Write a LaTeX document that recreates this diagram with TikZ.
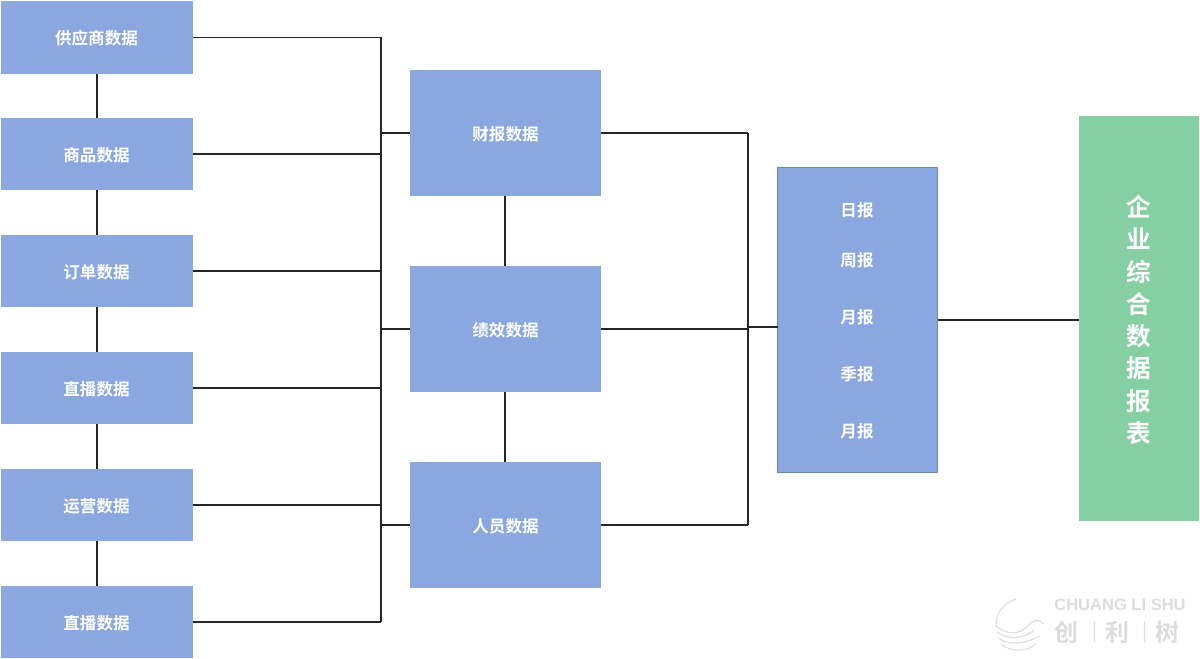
\documentclass[tikz,border=0pt]{standalone}
\usepackage{fontspec}
\setmainfont{Noto Sans CJK SC}[BoldFont={Noto Sans CJK SC Bold}]
\newfontfamily\latinwm{Liberation Sans}
\definecolor{boxblue}{HTML}{8AA7DF}
\definecolor{boxgreen}{HTML}{86CFA2}
\definecolor{wmgrey}{HTML}{DCDCDC}
\tikzset{
  x=0.75pt,y=-0.75pt,
  label/.style={text=white,font=\fontsize{12.4}{14}\selectfont\bfseries,inner sep=0pt,outer sep=0pt,text height=12.5pt,text depth=1.5pt},
  box/.style={label,fill=boxblue,draw=none},
  smallbox/.style={box,minimum width=144pt,minimum height=54.5pt},
  midbox/.style={box,minimum width=143.5pt,minimum height=95pt},
  link/.style={draw=black!85,line width=0.95pt},
  linkthick/.style={draw=black!85,line width=1.3pt},
  wm/.style={draw=wmgrey,line width=0.8pt,line cap=round},
  wmtext/.style={text=wmgrey,inner sep=0pt,font=\fontsize{18}{20}\selectfont\bfseries}
}
\begin{document}
\begin{tikzpicture}
\useasboundingbox (0,0) rectangle (1200,659);
% left column
\node[smallbox] (s1) at (96.5,37.5) {供应商数据};
\node[smallbox] (s2) at (96.5,154) {商品数据};
\node[smallbox] (s3) at (96.5,271) {订单数据};
\node[smallbox] (s4) at (96.5,388) {直播数据};
\node[smallbox] (s5) at (96.5,505) {运营数据};
\node[smallbox] (s6) at (96.5,622) {直播数据};
% middle column
\node[midbox] (m1) at (505.5,133) {财报数据};
\node[midbox] (m2) at (505.5,329) {绩效数据};
\node[midbox] (m3) at (505.5,525) {人员数据};
% reports box
\node[box,draw=boxblue!80!black,line width=0.5pt,minimum width=120pt,minimum height=229pt] (r) at (857.5,320) {};
\node[label] (r1) at (857,209.5) {日报};
\node[label] (r2) at (857,259.5) {周报};
\node[label] (r3) at (857,316.5) {月报};
\node[label] (r4) at (857,373.5) {季报};
\node[label] (r5) at (857,430.5) {月报};
% final box
\node[fill=boxgreen,inner sep=0pt,outer sep=0pt,minimum width=90.5pt,minimum height=304pt] (f) at (1139,318.5) {};
\node[text=white,align=center,inner sep=0pt,font=\fontsize{18.5}{24.2}\selectfont\bfseries] (ft) at (1139,320) {企\\业\\综\\合\\数\\据\\报\\表};
% bus coordinates
\coordinate (busA) at (381,37);
\coordinate (busAb) at (381,622);
\coordinate (busB) at (748,133);
\coordinate (busBb) at (748,525);
\coordinate (j1) at (381,133);
\coordinate (j2) at (381,329);
\coordinate (j3) at (381,525);
\coordinate (k) at (748,327);
% vertical links between boxes
\foreach \a/\b in {s1/s2,s2/s3,s3/s4,s4/s5,s5/s6}
  \draw[linkthick] ([xshift=0.375pt]\a.south) -- ([xshift=0.375pt]\b.north);
\foreach \a/\b in {m1/m2,m2/m3}
  \draw[linkthick] ([xshift=-0.375pt]\a.south) -- ([xshift=-0.375pt]\b.north);
\foreach \i in {1,...,6}
  \draw[link] (s\i.east) -- (s\i.east -| busA);
\draw[link] (busA) -- (busAb);
\draw[linkthick] (j1) -- (m1.west);
\draw[link] (j2) -- (m2.west);
\draw[link] (j3) -- (m3.west);
\foreach \i in {1,2,3}
  \draw[link] (m\i.east) -- (m\i.east -| busB);
\draw[link] (busB) -- (busBb);
\draw[linkthick] (k) -- (k -| r.west);
\draw[link] (r.east) -- (r.east -| f.west);
% watermark
\node[text=wmgrey,font=\latinwm\bfseries\fontsize{12.4}{14}\selectfont,inner sep=0pt] (w1) at (1120,605) {CHUANG LI SHU};
\node[wmtext] (w2) at (1066,632) {创};
\node[wmtext] (w3) at (1117,632) {利};
\node[wmtext] (w4) at (1167,632) {树};
\node[wmtext,font=\fontsize{14}{16}\selectfont] (w5) at (1095,632) {|};
\node[wmtext,font=\fontsize{14}{16}\selectfont] (w6) at (1145,632) {|};
\draw[wm] (1016,599) .. controls (1004,603) and (996,612) .. (996,626);
\draw[wm] (996,626) .. controls (1006,634) and (1018,636) .. (1028,626) .. controls (1032,621) and (1038,617) .. (1043,624);
\draw[wm] (997,632) .. controls (1008,640) and (1022,640) .. (1034,630);
\draw[wm] (998,638) .. controls (1010,646) and (1024,644) .. (1040,636);
\draw[wm] (1002,645) .. controls (1012,652) and (1026,652) .. (1036,644);
\end{tikzpicture}
\end{document}
